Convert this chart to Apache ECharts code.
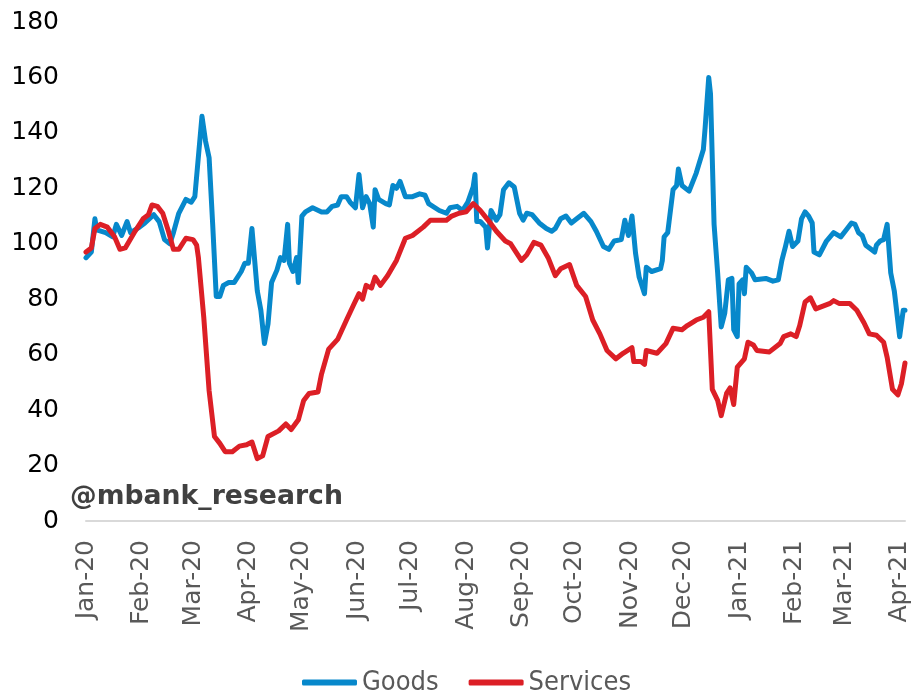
<!DOCTYPE html>
<html>
<head>
<meta charset="utf-8">
<script src="https://cdn.jsdelivr.net/npm/echarts@6/dist/echarts.min.js"></script>
<style>
  html, body { margin: 0; padding: 0; background: #ffffff; }
  #chart { width: 913px; height: 693px; }
</style>
</head>
<body>
<div id="chart"></div>
<script>
// Month ticks on the date axis
const monthTicks = ['2020-01-01','2020-02-01','2020-03-01','2020-04-01','2020-05-01','2020-06-01',
  '2020-07-01','2020-08-01','2020-09-01','2020-10-01','2020-11-01','2020-12-01',
  '2021-01-01','2021-02-01','2021-03-01','2021-04-01'];
const monthLabels = ['Jan-20','Feb-20','Mar-20','Apr-20','May-20','Jun-20','Jul-20','Aug-20',
  'Sep-20','Oct-20','Nov-20','Dec-20','Jan-21','Feb-21','Mar-21','Apr-21'];
const yTicks = [0, 20, 40, 60, 80, 100, 120, 140, 160, 180];

// Goods
const goodsDates = ['2020-01-01','2020-01-04','2020-01-06','2020-01-07','2020-01-12','2020-01-16','2020-01-18',
  '2020-01-21','2020-01-24','2020-01-26','2020-01-31','2020-02-03','2020-02-08','2020-02-11','2020-02-14',
  '2020-02-17','2020-02-19','2020-02-22','2020-02-26','2020-02-29','2020-03-02','2020-03-06','2020-03-08',
  '2020-03-10','2020-03-12','2020-03-14','2020-03-16','2020-03-18','2020-03-21','2020-03-24','2020-03-28',
  '2020-03-30','2020-04-01','2020-04-03','2020-04-06','2020-04-08','2020-04-10','2020-04-12','2020-04-14',
  '2020-04-17','2020-04-19','2020-04-21','2020-04-23','2020-04-24','2020-04-26','2020-04-28','2020-04-29',
  '2020-05-01','2020-05-03','2020-05-07','2020-05-12','2020-05-15','2020-05-18','2020-05-21','2020-05-23',
  '2020-05-26','2020-05-28','2020-05-31','2020-06-02','2020-06-04','2020-06-06','2020-06-08','2020-06-10',
  '2020-06-11','2020-06-13','2020-06-17','2020-06-19','2020-06-21','2020-06-23','2020-06-25','2020-06-26',
  '2020-06-28','2020-07-02','2020-07-06','2020-07-09','2020-07-11','2020-07-17','2020-07-21','2020-07-23',
  '2020-07-27','2020-07-30','2020-08-02','2020-08-05','2020-08-06','2020-08-07','2020-08-09','2020-08-12',
  '2020-08-13','2020-08-15','2020-08-18','2020-08-20','2020-08-22','2020-08-25','2020-08-28','2020-08-31',
  '2020-09-02','2020-09-04','2020-09-07','2020-09-11','2020-09-15','2020-09-18','2020-09-20','2020-09-23',
  '2020-09-26','2020-09-29','2020-10-02','2020-10-06','2020-10-10','2020-10-13','2020-10-17','2020-10-20',
  '2020-10-23','2020-10-27','2020-10-29','2020-10-31','2020-11-02','2020-11-04','2020-11-06','2020-11-07',
  '2020-11-09','2020-11-10','2020-11-13','2020-11-18','2020-11-19','2020-11-20','2020-11-22','2020-11-25',
  '2020-11-27','2020-11-28','2020-11-30','2020-12-04','2020-12-08','2020-12-12','2020-12-13','2020-12-15',
  '2020-12-16','2020-12-18','2020-12-20','2020-12-22','2020-12-24','2020-12-26','2020-12-27','2020-12-28',
  '2020-12-29','2020-12-31','2021-01-01','2021-01-03','2021-01-04','2021-01-05','2021-01-08','2021-01-10',
  '2021-01-16','2021-01-20','2021-01-23','2021-01-25','2021-01-27','2021-01-29','2021-01-31','2021-02-03',
  '2021-02-05','2021-02-07','2021-02-09','2021-02-11','2021-02-12','2021-02-15','2021-02-19','2021-02-23',
  '2021-02-27','2021-03-02','2021-03-05','2021-03-07','2021-03-09','2021-03-11','2021-03-13','2021-03-16',
  '2021-03-18','2021-03-19','2021-03-21','2021-03-23','2021-03-25','2021-03-27','2021-03-29','2021-04-01',
  '2021-04-03','2021-04-04'];
const goodsValues = [95,97,109,105,104,102.5,107,
  103,108,104,106,107.5,110.5,108,101.5,
  100,104,111,116,115,117,146,137,
  131,107,81,81,85,86,86,90,
  93,93,105.5,83,76,64,71,86,
  90.5,95,94,107,93,90,95,86,
  110,111.5,113,111.5,111.5,113.5,114,117,
  117,115,113,125,113,117,114.5,106,
  119.5,116,114.5,114,121,120,122.5,123,
  117,117,118,117.5,114.5,112,111,113,
  113.5,112,115,120.5,125,108,108,106,
  98.5,112,108.5,110.5,119.5,122,120.5,111,
  108.5,111,110.5,107.5,105.5,104.5,105.5,109,
  110,107.5,109,111,108,104.5,99,98,
  101,101.5,108.5,103,110,96.5,88,88.5,
  82,91.5,90,91,94,102.5,104,119.5,
  121,127,121,119,125.5,134,142,160,
  154,107,89.5,70,75,87,86.5,87.5,
  69,66.5,85.5,87,82,91.5,89.5,87,
  87.5,86.5,87,94,99,104.5,99,101,
  109,111.5,110,107.5,97,96,101,104,
  102.5,105,107.5,107,104,103,99.5,98,
  97,99.5,101,101.5,107,89.5,83,66.5,
  76,76];

// Services
const servicesDates = ['2020-01-01','2020-01-04','2020-01-06','2020-01-09','2020-01-13','2020-01-17','2020-01-20',
  '2020-01-23','2020-01-28','2020-02-02','2020-02-05','2020-02-07','2020-02-10','2020-02-13','2020-02-16',
  '2020-02-19','2020-02-22','2020-02-26','2020-03-01','2020-03-03','2020-03-04','2020-03-07','2020-03-10',
  '2020-03-13','2020-03-16','2020-03-19','2020-03-23','2020-03-27','2020-03-31','2020-04-03','2020-04-06',
  '2020-04-09','2020-04-12','2020-04-18','2020-04-22','2020-04-25','2020-04-29','2020-05-02','2020-05-05',
  '2020-05-10','2020-05-12','2020-05-16','2020-05-21','2020-05-26','2020-05-30','2020-06-02','2020-06-04',
  '2020-06-06','2020-06-09','2020-06-11','2020-06-14','2020-06-18','2020-06-23','2020-06-28','2020-07-02',
  '2020-07-08','2020-07-12','2020-07-21','2020-07-24','2020-07-28','2020-08-01','2020-08-05','2020-08-09',
  '2020-08-14','2020-08-18','2020-08-23','2020-08-26','2020-09-01','2020-09-04','2020-09-08','2020-09-12',
  '2020-09-16','2020-09-20','2020-09-23','2020-09-28','2020-10-02','2020-10-07','2020-10-11','2020-10-15',
  '2020-10-19','2020-10-24','2020-10-28','2020-11-02','2020-11-03','2020-11-07','2020-11-09','2020-11-10',
  '2020-11-16','2020-11-21','2020-11-25','2020-11-30','2020-12-03','2020-12-08','2020-12-12','2020-12-15',
  '2020-12-17','2020-12-20','2020-12-22','2020-12-25','2020-12-27','2020-12-29','2020-12-31','2021-01-04',
  '2021-01-06','2021-01-09','2021-01-11','2021-01-18','2021-01-24','2021-01-26','2021-01-30','2021-02-02',
  '2021-02-04','2021-02-07','2021-02-10','2021-02-13','2021-02-17','2021-02-21','2021-02-23','2021-02-26',
  '2021-03-04','2021-03-08','2021-03-12','2021-03-15','2021-03-19','2021-03-23','2021-03-25','2021-03-28',
  '2021-03-31','2021-04-02','2021-04-04'];
const servicesValues = [97,98.5,105.5,107,106,102.5,98,
  98.5,104,109,110.5,114,113.5,111,105,
  98,98,102,101.5,99.5,95,73.5,47,
  30.5,28,25,25,27,27.5,28.5,22.5,
  23.5,30.5,32.5,35,33,36.5,43.5,46,
  46.5,53,62,65.5,72.5,78,82,80,
  85,84,88,85,88.5,94,102,103,
  106,108.5,108.5,110,111,111.5,114.5,112,
  108,104.5,101,100,94,96,100.5,99.5,
  95,88.5,91,92.5,85,81,72.5,67.5,
  61.5,58.5,60.5,62.5,57.5,57.5,56.5,61.5,
  60.5,64,69.5,69,70.5,72.5,73.5,75.5,
  47.5,43.5,38,46,48,42,55.5,58.5,
  64.5,63.5,61.5,61,64,66.5,67.5,66.5,
  70.5,79,80.5,76.5,77.5,78.5,79.5,78.5,
  78.5,76,71.5,67.5,67,64.5,59,47.5,
  45.5,49.5,57];

// Dates are placed on a linear day axis counted from 1 Jan 2020
const DAY_MS = 86400000;
const ORIGIN = Date.UTC(2020, 0, 1);
function dayIndex(s) {
  const p = s.split('-').map(Number);
  return Math.round((Date.UTC(p[0], p[1] - 1, p[2]) - ORIGIN) / DAY_MS);
}
function pairs(dates, values) {
  return dates.map((d, i) => [dayIndex(d), values[i]]);
}
const tickDays = monthTicks.map(dayIndex);

const FONT = "'DejaVu Sans', Verdana, sans-serif";
const chart = echarts.init(document.getElementById('chart'), null, { renderer: 'canvas' });

chart.setOption({
  animation: false,
  backgroundColor: '#ffffff',
  grid: { left: 86, right: 8, top: 22, bottom: 172, containLabel: false },
  xAxis: {
    type: 'value',
    min: 0,
    max: dayIndex('2021-04-04'),
    splitLine: { show: false },
    axisLine: { show: true, lineStyle: { color: '#d9d9d9', width: 2 } },
    axisTick: { show: false },
    axisLabel: {
      customValues: tickDays,
      rotate: 90,
      margin: 19,
      color: '#595959',
      fontFamily: FONT,
      fontSize: 25,
      formatter: v => {
        const i = tickDays.indexOf(v);
        return i >= 0 ? monthLabels[i] : '';
      }
    }
  },
  yAxis: {
    type: 'value',
    min: yTicks[0],
    max: yTicks[yTicks.length - 1],
    interval: 20,
    splitLine: { show: false },
    axisLine: { show: false },
    axisTick: { show: false },
    axisLabel: { color: '#000000', fontFamily: FONT, fontSize: 25, margin: 27 }
  },
  legend: {
    left: 297,
    top: 664,
    itemGap: 30,
    itemWidth: 55,
    itemHeight: 6,
    icon: 'roundRect',
    textStyle: { color: '#595959', fontFamily: "'DejaVu Sans Condensed', " + FONT, fontSize: 27, padding: [0, 0, 0, 0] },
    data: ['Goods', 'Services']
  },
  graphic: [{
    type: 'text',
    left: 70,
    top: 484,
    style: {
      text: '@mbank_research',
      fill: '#404040',
      font: "bold 26.7px 'DejaVu Sans', Verdana, sans-serif"
    }
  }],
  series: [
    {
      name: 'Goods',
      type: 'line',
      data: pairs(goodsDates, goodsValues),
      showSymbol: false,
      color: '#0788cb',
      lineStyle: { width: 5, cap: 'round', join: 'round' },
      z: 2
    },
    {
      name: 'Services',
      type: 'line',
      data: pairs(servicesDates, servicesValues),
      showSymbol: false,
      color: '#dc1f26',
      lineStyle: { width: 5, cap: 'round', join: 'round' },
      z: 3
    }
  ]
});
</script>
</body>
</html>
